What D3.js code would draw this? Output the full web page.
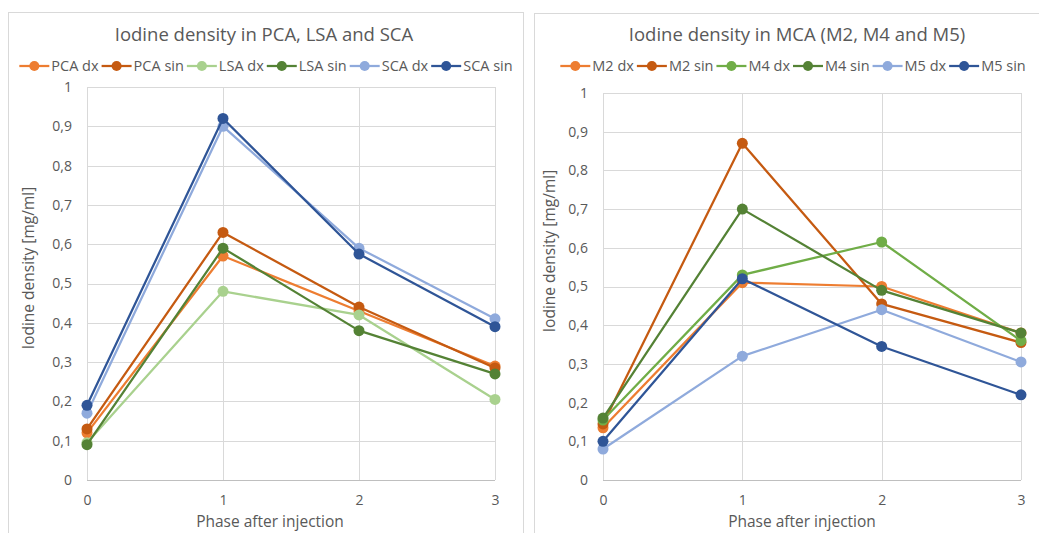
<!DOCTYPE html>
<html>
<head>
<meta charset="utf-8">
<script src="https://cdn.jsdelivr.net/npm/d3@7"></script>
<style>
  body { margin: 0; background: #fff; }
  svg { display: block; font-family: "Open Sans", sans-serif; }
</style>
</head>
<body>
<div id="chart"></div>
<script>
// x categories and y tick labels (comma decimals like the original)
var phases = [0, 1, 2, 3];
var yTickValues = [0, 0.1, 0.2, 0.3, 0.4, 0.5, 0.6, 0.7, 0.8, 0.9, 1];
var yTickLabels = ["0", "0,1", "0,2", "0,3", "0,4", "0,5", "0,6", "0,7", "0,8", "0,9", "1"];

// left chart
var leftNames = ["PCA dx", "PCA sin", "LSA dx", "LSA sin", "SCA dx", "SCA sin"];
var pcaDx  = [0.12, 0.57, 0.43, 0.29];
var pcaSin = [0.13, 0.63, 0.44, 0.285];
var lsaDx  = [0.095, 0.48, 0.42, 0.205];
var lsaSin = [0.09, 0.59, 0.38, 0.27];
var scaDx  = [0.17, 0.90, 0.59, 0.41];
var scaSin = [0.19, 0.92, 0.575, 0.39];

// right chart
var rightNames = ["M2 dx", "M2 sin", "M4 dx", "M4 sin", "M5 dx", "M5 sin"];
var m2Dx  = [0.135, 0.51, 0.50, 0.38];
var m2Sin = [0.145, 0.87, 0.455, 0.355];
var m4Dx  = [0.155, 0.53, 0.615, 0.36];
var m4Sin = [0.16, 0.70, 0.49, 0.38];
var m5Dx  = [0.08, 0.32, 0.44, 0.305];
var m5Sin = [0.10, 0.52, 0.345, 0.22];

var leftColors  = ["#ED7D31", "#C55A11", "#A9D18E", "#548235", "#8FAADC", "#2F5597"];
var rightColors = ["#ED7D31", "#C55A11", "#70AD47", "#548235", "#8FAADC", "#2F5597"];

var width = 1039, height = 533;
var textColor = "#595959";

var svg = d3.select("#chart").append("svg")
	.attr("width", width)
	.attr("height", height);

function drawChart(cfg) {
	var g = svg.append("g");

	// outer frame of the chart
	g.append("rect")
		.attr("x", cfg.frame.x + 0.5).attr("y", cfg.frame.y + 0.5)
		.attr("width", cfg.frame.w).attr("height", cfg.frame.h)
		.attr("fill", "#fff").attr("stroke", "#d9d9d9");

	var xScale = d3.scalePoint().domain(phases).range([cfg.plot.left, cfg.plot.right]);
	var yScale = d3.scaleLinear().domain([0, 1]).range([cfg.plot.bottom, cfg.plot.top]);

	// gridlines
	g.append("g").selectAll("line.h")
		.data(yTickValues.slice(1))
		.enter().append("line")
		.attr("x1", cfg.plot.left).attr("x2", cfg.plot.right)
		.attr("y1", function(d) { return Math.round(yScale(d)) + 0.5; })
		.attr("y2", function(d) { return Math.round(yScale(d)) + 0.5; })
		.attr("stroke", "#d9d9d9").attr("stroke-width", 1);

	g.append("g").selectAll("line.v")
		.data(phases)
		.enter().append("line")
		.attr("x1", function(d) { return Math.round(xScale(d)) + 0.5; })
		.attr("x2", function(d) { return Math.round(xScale(d)) + 0.5; })
		.attr("y1", cfg.plot.top).attr("y2", cfg.plot.bottom)
		.attr("stroke", "#d9d9d9").attr("stroke-width", 1);

	// bottom axis line
	g.append("line")
		.attr("x1", cfg.plot.left).attr("x2", cfg.plot.right)
		.attr("y1", Math.round(yScale(0)) + 0.5).attr("y2", Math.round(yScale(0)) + 0.5)
		.attr("stroke", "#bfbfbf").attr("stroke-width", 1.2);

	// y tick labels
	var yAxis = d3.axisLeft(yScale)
		.tickValues(yTickValues)
		.tickSize(0)
		.tickPadding(15)
		.tickFormat(function(d, i) { return yTickLabels[i]; });
	var ya = g.append("g")
		.attr("transform", "translate(" + cfg.plot.left + ",0)")
		.call(yAxis);
	ya.select(".domain").remove();
	ya.selectAll("text").attr("fill", textColor).style("font-size", "14px")
		.style("font-family", "'Open Sans', sans-serif");

	// x tick labels
	var xAxis = d3.axisBottom(xScale).tickSize(0).tickPadding(15);
	var xa = g.append("g")
		.attr("transform", "translate(0," + cfg.plot.bottom + ")")
		.call(xAxis);
	xa.select(".domain").remove();
	xa.selectAll("text").attr("fill", textColor).style("font-size", "14px")
		.style("font-family", "'Open Sans', sans-serif");

	// titles
	g.append("text")
		.attr("x", cfg.titleX).attr("y", 41)
		.attr("text-anchor", "middle")
		.attr("fill", textColor)
		.style("font-size", "18.5px")
		.text(cfg.title);

	g.append("text")
		.attr("x", cfg.xTitleX).attr("y", 527)
		.attr("text-anchor", "middle")
		.attr("fill", textColor)
		.style("font-size", "15.5px")
		.text("Phase after injection");

	g.append("text")
		.attr("transform", "translate(" + cfg.yTitleX + "," + cfg.yTitleY + ") rotate(-90)")
		.attr("text-anchor", "middle")
		.attr("fill", textColor)
		.style("font-size", "15.5px")
		.text("Iodine density [mg/ml]");

	// series lines + markers
	var line = d3.line()
		.x(function(d, i) { return xScale(phases[i]); })
		.y(function(d) { return yScale(d); });

	cfg.series.forEach(function(s, k) {
		var sg = g.append("g");
		sg.append("path")
			.datum(s)
			.attr("d", line)
			.attr("fill", "none")
			.attr("stroke", cfg.colors[k])
			.attr("stroke-width", 2.25)
			.attr("stroke-linejoin", "round");
		sg.selectAll("circle")
			.data(s)
			.enter().append("circle")
			.attr("cx", function(d, i) { return xScale(phases[i]); })
			.attr("cy", function(d) { return yScale(d); })
			.attr("r", 5.5)
			.attr("fill", cfg.colors[k]);
	});

	// legend, laid out from measured text widths and centred
	var lg = g.append("g");
	var x = 0;
	cfg.names.forEach(function(n, k) {
		var it = lg.append("g");
		it.append("line")
			.attr("x1", 0).attr("x2", 30).attr("y1", 0).attr("y2", 0)
			.attr("stroke", cfg.colors[k]).attr("stroke-width", 2.25);
		it.append("circle").attr("cx", 15).attr("cy", 0).attr("r", 5)
			.attr("fill", cfg.colors[k]);
		var t = it.append("text")
			.attr("x", 32).attr("y", 0).attr("dy", "0.35em")
			.attr("fill", textColor)
			.style("font-size", "14.5px")
			.text(n);
		var w = 32 + t.node().getComputedTextLength();
		it.attr("transform", "translate(" + x + ",0)");
		x += w + 3;
	});
	var total = x - 3;
	lg.attr("transform", "translate(" + (cfg.legendX - total / 2) + ",66)");
}

drawChart({
	frame: {x: 8, y: 12, w: 515, h: 540},
	plot: {left: 87, right: 495, top: 87, bottom: 480},
	title: "Iodine density in PCA, LSA and SCA",
	titleX: 264, xTitleX: 270, yTitleX: 34, yTitleY: 268, legendX: 266,
	names: leftNames,
	series: [pcaDx, pcaSin, lsaDx, lsaSin, scaDx, scaSin],
	colors: leftColors
});

drawChart({
	frame: {x: 534, y: 13, w: 530, h: 540},
	plot: {left: 603, right: 1021, top: 93, bottom: 480},
	title: "Iodine density in MCA (M2, M4 and M5)",
	titleX: 797, xTitleX: 802, yTitleX: 555, yTitleY: 251, legendX: 793,
	names: rightNames,
	series: [m2Dx, m2Sin, m4Dx, m4Sin, m5Dx, m5Sin],
	colors: rightColors
});
</script>
</body>
</html>
